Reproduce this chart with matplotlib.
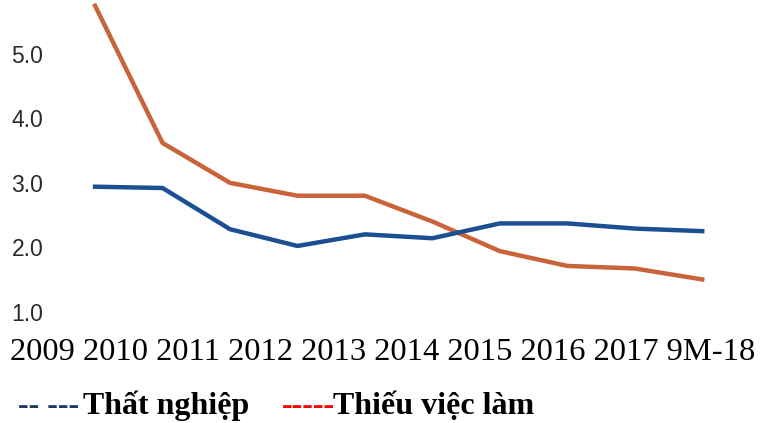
import matplotlib
matplotlib.use("Agg")
from matplotlib import pyplot as plt

years = ["2009", "2010", "2011", "2012", "2013", "2014", "2015", "2016", "2017", "9M-18"]
that_nghiep = [2.94, 2.92, 2.28, 2.02, 2.20, 2.14, 2.37, 2.37, 2.29, 2.25]
thieu_viec = [5.75, 3.62, 3.00, 2.80, 2.80, 2.40, 1.94, 1.71, 1.67, 1.50]
y_ticks = [1.0, 2.0, 3.0, 4.0, 5.0]

fig = plt.figure(figsize=(7.62, 4.23), dpi=100)
ax = fig.add_axes([60 / 762, 1 - 320 / 423, 680 / 762, 320 / 423])

x = range(len(years))
ax.plot(x, thieu_viec, color="#c8633a", lw=3.2, solid_joinstyle="round")
ax.plot(x, that_nghiep, color="#1c4f91", lw=3.2, solid_joinstyle="round")

ax.set_xlim(-0.52, 9.56)
ax.set_ylim(0.87, 5.84)
ax.set_yticks(y_ticks)
ax.set_yticklabels(["%.1f" % v for v in y_ticks], family="Liberation Sans",
                   fontsize=16.5, color="#2a2a2a")
ax.tick_params(axis="y", length=0, pad=12)
ax.set_xticks([])
for s in ax.spines.values():
    s.set_visible(False)

# year labels sit under the chart as one line of serif text
fig.text(10 / 762, 1 - 352 / 423, " ".join(years), family="Liberation Serif",
         fontsize=23.4, ha="left", va="center", color="black")

# hand-made legend
leg_y = 1 - 406 / 423
fig.text(18 / 762, leg_y, "-- ---", family="Liberation Serif", weight="bold",
         fontsize=23, color="#1f3864", ha="left", va="center")
fig.text(83 / 762, leg_y, "Thất nghiệp", family="Liberation Serif", weight="bold",
         fontsize=23, color="black", ha="left", va="center")
fig.text(282 / 762, leg_y, "-----", family="Liberation Serif", weight="bold",
         fontsize=23, color="#ff0000", ha="left", va="center")
fig.text(333 / 762, leg_y, "Thiếu việc làm", family="Liberation Serif", weight="bold",
         fontsize=23, color="black", ha="left", va="center")

fig.savefig("out.png", dpi=100)
